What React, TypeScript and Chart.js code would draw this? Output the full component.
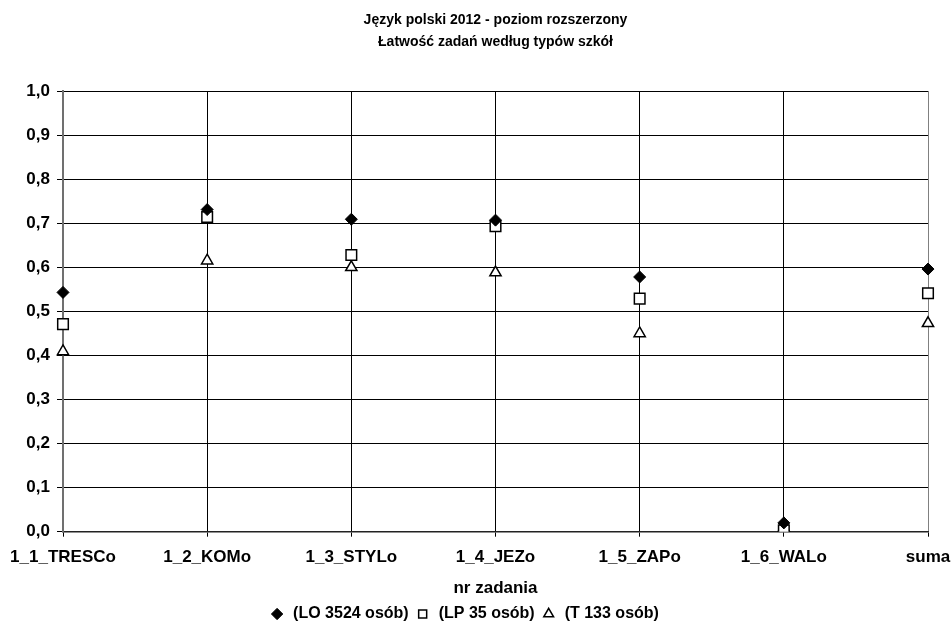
import React, { useEffect, useRef } from 'react';
import { Chart, registerables } from 'chart.js';

Chart.register(...registerables);

const categories = ['1_1_TRESCo', '1_2_KOMo', '1_3_STYLo', '1_4_JEZo', '1_5_ZAPo', '1_6_WALo', 'suma'];
const seriesLO = [0.543, 0.731, 0.709, 0.707, 0.578, 0.02, 0.596];
const seriesLP = [0.471, 0.714, 0.628, 0.693, 0.529, 0.003, 0.541];
const seriesT = [0.409, 0.615, 0.6, 0.588, 0.45, 0.008, 0.473];
const seriesNames = ['(LO 3524 osób)', '(LP 35 osób)', '(T 133 osób)'];
const titleLines = ['Język polski 2012 - poziom rozszerzony', 'Łatwość zadań według typów szkół'];
const xTitle = 'nr zadania';

const FONT = "'Liberation Sans', Arial, Helvetica, sans-serif";

export default function App() {
  const ref = useRef<HTMLCanvasElement | null>(null);

  useEffect(() => {
    if (!ref.current) return;
    const chart = new Chart(ref.current, {
      type: 'line',
      data: {
        labels: categories,
        datasets: [
          {
            label: seriesNames[0],
            data: seriesLO,
            showLine: false,
            pointStyle: 'rectRot',
            pointRadius: 6,
            pointHoverRadius: 6,
            backgroundColor: '#000',
            borderColor: '#000',
            borderWidth: 1,
          },
          {
            label: seriesNames[1],
            data: seriesLP,
            showLine: false,
            pointStyle: 'rect',
            pointRadius: 7.5,
            pointHoverRadius: 7.5,
            backgroundColor: '#fff',
            borderColor: '#000',
            borderWidth: 1.5,
          },
          {
            label: seriesNames[2],
            data: seriesT,
            showLine: false,
            pointStyle: 'triangle',
            pointRadius: 6.5,
            pointHoverRadius: 6.5,
            backgroundColor: '#fff',
            borderColor: '#000',
            borderWidth: 1.5,
          },
        ],
      },
      options: {
        responsive: false,
        animation: false,
        layout: { padding: { left: 0, right: 24, top: 0, bottom: 0 } },
        plugins: {
          tooltip: { enabled: false },
          title: {
            display: true,
            text: titleLines,
            color: '#000',
            fullSize: false,
            font: { family: FONT, size: 14, weight: 'bold', lineHeight: 1.536 },
            padding: { top: 9.75, bottom: 38.25 },
          },
          legend: {
            display: true,
            position: 'bottom',
            labels: {
              usePointStyle: true,
              boxHeight: 8,
              padding: 6,
              color: '#000',
              font: { family: FONT, size: 16, weight: 'bold' },
            },
          },
        },
        scales: {
          x: {
            type: 'category',
            offset: false,
            afterFit: (scale: any) => {
              scale.paddingLeft = 0;
              scale.paddingRight = 0;
            },
            grid: {
              display: true,
              color: (ctx: any) => (ctx.index === categories.length - 1 ? '#808080' : '#000'),
              lineWidth: 1,
              drawTicks: true,
              tickLength: 5,
              tickColor: '#000',
            },
            border: { display: true, color: '#222', width: 1.5 },
            ticks: {
              autoSkip: false,
              maxRotation: 0,
              minRotation: 0,
              padding: 10.1,
              color: '#000',
              font: { family: FONT, size: 17, weight: 'bold' },
            },
            title: {
              display: true,
              text: xTitle,
              color: '#000',
              font: { family: FONT, size: 17, weight: 'bold' },
              padding: { top: 1, bottom: 1.3 },
            },
          },
          y: {
            type: 'linear',
            min: 0,
            max: 1,
            afterFit: (scale: any) => {
              scale.width = 63;
            },
            grid: {
              display: true,
              color: '#000',
              lineWidth: 1,
              drawTicks: true,
              tickLength: 6,
              tickColor: '#000',
            },
            border: { display: true, color: '#707070', width: 2 },
            ticks: {
              stepSize: 0.1,
              padding: 7,
              color: '#000',
              font: { family: FONT, size: 17, weight: 'bold' },
              callback: (v: any) => Number(v).toFixed(1).replace('.', ','),
            },
          },
        },
      },
    });
    return () => chart.destroy();
  }, []);

  return (
    <div style={{ position: 'fixed', left: 0, top: 0, width: 952, height: 632, background: '#fff' }}>
      <canvas ref={ref} width={952} height={632} />
    </div>
  );
}
